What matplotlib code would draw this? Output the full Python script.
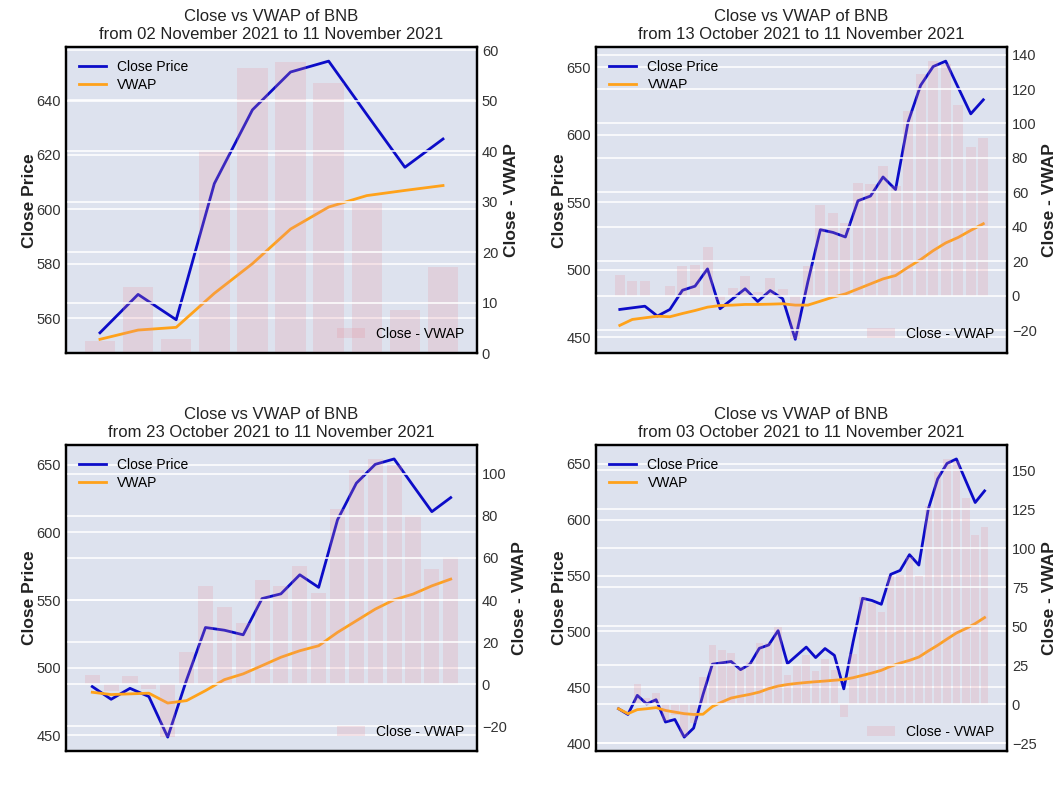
import matplotlib
matplotlib.use("Agg")
import matplotlib.pyplot as plt
import numpy as np

plt.rcParams['font.family'] = ['Liberation Sans', 'DejaVu Sans']

# Daily close prices of BNB, 03 Oct 2021 .. 11 Nov 2021
close_prices = [430.8, 425.7, 442.8, 435.1, 438.9, 418.9, 421.2, 405.4, 413.5, 443.5,
                470.7, 471.9, 473.1, 465.8, 470.7, 484.9, 487.9, 500.7, 471.2, 478.6,
                486.0, 476.6, 484.7, 478.6, 448.6, 491.0, 529.7, 527.7, 524.3, 551.1,
                554.6, 568.7, 559.4, 609.4, 636.5, 650.4, 654.4, 634.8, 615.4, 625.8]

# VWAP computed from the start of each window
vwap_10d = [552.2, 555.6, 556.6, 569.1, 580.0, 592.7, 600.8, 605.0, 606.9, 608.7]
vwap_30d = [458.9, 463.3, 464.5, 465.7, 465.3, 467.7, 469.9, 472.4, 473.6, 473.9,
            474.4, 474.4, 474.6, 474.9, 473.9, 473.9, 476.8, 479.8, 482.2, 485.9,
            489.6, 493.3, 495.8, 501.9, 507.6, 514.2, 519.9, 524.0, 529.2, 534.1]
vwap_20d = [481.8, 480.1, 480.6, 481.1, 473.8, 475.6, 483.0, 491.1, 495.4, 501.5,
            507.7, 512.5, 516.2, 526.1, 534.7, 543.3, 550.2, 554.4, 560.5, 565.5]
vwap_40d = [430.8, 426.4, 430.0, 430.8, 431.8, 429.3, 427.8, 426.4, 425.7, 425.9,
            432.8, 436.8, 440.4, 442.1, 443.7, 445.7, 448.8, 451.1, 452.5, 453.5,
            454.3, 455.0, 455.6, 456.3, 457.0, 458.6, 460.7, 462.8, 465.2, 468.8,
            471.7, 474.1, 477.1, 482.5, 487.6, 493.2, 498.6, 502.5, 507.0, 512.4]

start_dates = ["02 November 2021", "13 October 2021", "23 October 2021", "03 October 2021"]
end_date = "11 November 2021"
vwaps = [vwap_10d, vwap_30d, vwap_20d, vwap_40d]

bg = '#dde2ee'
fig, axes = plt.subplots(2, 2, figsize=(10.6, 7.95), dpi=100)
fig.subplots_adjust(left=0.0623, right=0.950, bottom=0.0553, top=0.9406,
                    wspace=0.29, hspace=0.30)

for ax, vwap, start in zip(axes.flat, vwaps, start_dates):
    n = len(vwap)
    close = np.array(close_prices[-n:])
    vw = np.array(vwap)
    x = np.arange(n)
    ax.set_facecolor(bg)
    ax.plot(x, close, color='#0c0cc8', lw=2, label='Close Price')
    ax.plot(x, vw, color='#ffa21a', lw=2, label='VWAP')
    ax2 = ax.twinx()
    ax2.bar(x, close - vw, color='#e8909c', alpha=0.22, label='Close - VWAP')
    for a in (ax, ax2):
        a.grid(axis='y', color='white', lw=1.1)
        a.grid(axis='x', visible=False)
        a.tick_params(length=0, labelsize=10.5, labelcolor='#333333')
        for s in a.spines.values():
            s.set_color('black')
            s.set_linewidth(1.6)
    ax.set_xticks([])
    ax.set_ylabel('Close Price', fontsize=12.5, fontweight='bold', color='#222222', labelpad=0)
    ax2.set_ylabel('Close - VWAP', fontsize=12.5, fontweight='bold', color='#222222')
    ax.set_title(f"Close vs VWAP of BNB\nfrom {start} to {end_date}", fontsize=12, color='#222222')
    ax.legend(loc='upper left', frameon=False, fontsize=10, labelspacing=0.3)
    ax2.legend(loc='lower right', frameon=False, fontsize=10)

fig.savefig('out.png', dpi=100)
